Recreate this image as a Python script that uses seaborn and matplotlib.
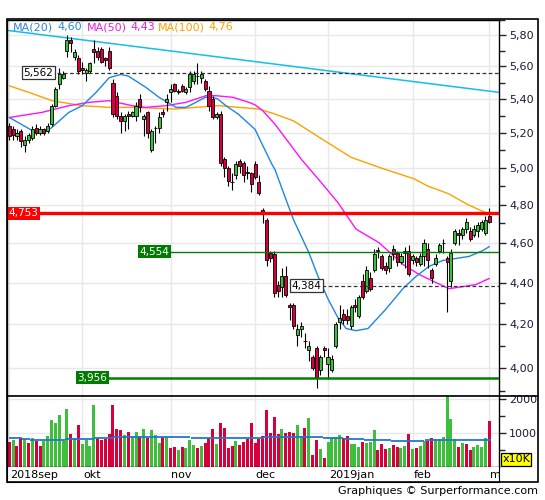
import numpy as np
import matplotlib
matplotlib.use("Agg")
import matplotlib.pyplot as plt
from matplotlib.ticker import FixedLocator, FuncFormatter, NullFormatter
from matplotlib.patches import Rectangle
from matplotlib.lines import Line2D
import seaborn as sns

# daily candles, 4 sep 2018 -> 1 mar 2019 (index = trading day)
opens = [5.24, 5.22, 5.18, 5.21, 5.13, 5.16, 5.17, 5.23, 5.20, 5.22,
         5.21, 5.25, 5.36, 5.49, 5.53, 5.70, 5.77, 5.66, 5.65,
         5.59, 5.56, 5.57, 5.71, 5.70, 5.71, 5.65, 5.70, 5.50, 5.42,
         5.30, 5.27, 5.31, 5.30, 5.30, 5.40, 5.28, 5.32, 5.10, 5.23,
         5.23, 5.32, 5.38,
         5.44, 5.49, 5.44, 5.48, 5.44, 5.47, 5.51, 5.54, 5.53, 5.51,
         5.45, 5.40, 5.29, 5.31, 5.05, 5.00, 4.925, 4.96, 5.04, 5.03,
         4.98, 4.97,
         5.02, 4.92, 4.77, 4.72, 4.55, 4.54, 4.39, 4.38, 4.43, 4.29,
         4.29, 4.15, 4.18, 4.12, 4.08, 4.05, 4.09, 3.99, 4.09,
         4.02, 3.99, 4.10, 4.21, 4.25, 4.24, 4.19, 4.29, 4.24, 4.41,
         4.36, 4.42, 4.46, 4.56, 4.53, 4.48, 4.47, 4.57, 4.55, 4.50,
         4.55, 4.56,
         4.51, 4.52, 4.49, 4.53, 4.57, 4.46, 4.49, 4.56, 4.60, 4.52,
         4.41, 4.60, 4.65, 4.64, 4.67, 4.66, 4.64, 4.66, 4.67, 4.65,
         4.74]
closes = [5.18, 5.19, 5.20, 5.15, 5.16, 5.19, 5.22, 5.20, 5.22, 5.20,
          5.24, 5.36, 5.46, 5.55, 5.55, 5.77, 5.75, 5.69, 5.57,
          5.58, 5.58, 5.62, 5.69, 5.66, 5.63, 5.64, 5.59, 5.31, 5.30,
          5.27, 5.30, 5.30, 5.32, 5.36, 5.35, 5.30, 5.20, 5.21, 5.23,
          5.29, 5.31, 5.40,
          5.46, 5.45, 5.45, 5.45, 5.46, 5.55, 5.55, 5.54, 5.55, 5.46,
          5.36, 5.29, 5.31, 5.03, 5.00, 4.93, 4.92, 5.02, 5.01, 4.96,
          4.97, 4.91,
          4.95, 4.86, 4.76, 4.51, 4.52, 4.35, 4.36, 4.43, 4.34, 4.28,
          4.19, 4.18, 4.19, 4.12, 4.10, 4.00, 3.96, 4.05, 4.08,
          4.05, 4.04, 4.20, 4.23, 4.22, 4.22, 4.28, 4.28, 4.33, 4.33,
          4.46, 4.37, 4.54, 4.565, 4.47, 4.46, 4.53, 4.54, 4.50, 4.53,
          4.56, 4.44,
          4.53, 4.50, 4.53, 4.60, 4.51, 4.42, 4.52, 4.59, 4.60, 4.50,
          4.55, 4.66, 4.64, 4.67, 4.71, 4.62, 4.67, 4.69, 4.71, 4.72,
          4.71]
highs = [5.26, 5.24, 5.22, 5.22, 5.18, 5.20, 5.24, 5.25, 5.24, 5.23,
         5.26, 5.37, 5.47, 5.59, 5.57, 5.80, 5.79, 5.71, 5.67,
         5.63, 5.59, 5.63, 5.77, 5.72, 5.72, 5.66, 5.72, 5.52, 5.44,
         5.32, 5.31, 5.33, 5.33, 5.38, 5.43, 5.31, 5.33, 5.22, 5.24,
         5.32, 5.34, 5.43,
         5.49, 5.50, 5.46, 5.49, 5.47, 5.57, 5.57, 5.62, 5.57, 5.52,
         5.48, 5.42, 5.32, 5.33, 5.06, 5.01, 4.97, 5.04, 5.05, 5.04,
         5.01, 4.98,
         5.04, 4.96, 4.78, 4.73, 4.56, 4.56, 4.41, 4.47, 4.48, 4.30,
         4.30, 4.20, 4.21, 4.16, 4.12, 4.06, 4.10, 4.06, 4.10,
         4.09, 4.06, 4.21, 4.29, 4.27, 4.27, 4.29, 4.32, 4.34, 4.44,
         4.48, 4.45, 4.57, 4.58, 4.54, 4.50, 4.54, 4.59, 4.56, 4.55,
         4.58, 4.59,
         4.54, 4.53, 4.55, 4.62, 4.60, 4.47, 4.54, 4.60, 4.62, 4.53,
         4.57, 4.67, 4.67, 4.68, 4.73, 4.68, 4.69, 4.71, 4.72, 4.74,
         4.78]
lows = [5.16, 5.16, 5.16, 5.12, 5.09, 5.14, 5.16, 5.19, 5.19, 5.19,
        5.20, 5.24, 5.35, 5.46, 5.52, 5.66, 5.69, 5.64, 5.55,
        5.55, 5.51, 5.56, 5.62, 5.64, 5.62, 5.60, 5.58, 5.29, 5.28,
        5.20, 5.21, 5.22, 5.29, 5.27, 5.32, 5.18, 5.17, 5.09, 5.14,
        5.20, 5.29, 5.33,
        5.38, 5.44, 5.43, 5.44, 5.43, 5.44, 5.49, 5.49, 5.50, 5.45,
        5.33, 5.28, 5.28, 5.01, 4.95, 4.90, 4.88, 4.94, 4.97, 4.92,
        4.94, 4.87,
        4.94, 4.85, 4.70, 4.48, 4.50, 4.33, 4.33, 4.33, 4.33, 4.22,
        4.18, 4.10, 4.14, 4.09, 4.03, 3.99, 3.91, 3.97, 4.05,
        3.95, 3.98, 4.09, 4.18, 4.20, 4.20, 4.18, 4.26, 4.23, 4.32,
        4.35, 4.36, 4.45, 4.52, 4.46, 4.44, 4.45, 4.51, 4.48, 4.49,
        4.47, 4.43,
        4.49, 4.48, 4.48, 4.48, 4.47, 4.40, 4.48, 4.55, 4.55, 4.26,
        4.38, 4.59, 4.59, 4.62, 4.65, 4.61, 4.63, 4.63, 4.66, 4.64,
        4.70]

# volume in units of 10K
volumes = [725, 783, 609, 840, 821, 696, 840, 754, 609, 754,
           899, 1391, 1304, 1536, 754, 1710, 957, 840, 1217, 667,
           783, 609, 1826, 840, 783, 812, 957, 1826, 1101, 1072,
           928, 1014, 899, 1014, 899, 1101, 840, 1072, 928, 696,
           870, 870, 551, 580, 493, 580, 551, 783, 638, 551,
           609, 696, 840, 1101, 667, 1275, 1130, 551, 609, 754,
           638, 725, 812, 1275, 696, 812, 899, 1681, 986, 1478,
           957, 1101, 986, 1014, 986, 1217, 899, 1130, 1449, 348,
           783, 522, 261, 725, 840, 870, 928, 840, 899, 667,
           667, 580, 725, 696, 725, 1072, 493, 667, 522, 551,
           638, 580, 551, 609, 957, 522, 551, 609, 754, 754,
           840, 812, 812, 870, 2077, 1420, 812, 580, 696, 667,
           493, 580, 638, 580, 840, 1362]
vol_dir = ("rgrrgrgrrg" "ggggggrgrg" "gggrrrrrrr" "grggrgrggg" "rgrrgrgggr"
           "grrrgrrrrg" "rrrrrrrrrr" "rgrrrggrgr" "rgrggggrrg" "ggrgggrrrg"
           "rrggrgrggr" "rggggggrgr" "rggggr")

# average volume (stepped)
vavg_start = [0, 3.3, 5.5, 14.6, 22.1, 27.3, 47.2, 66.4, 81.7, 87.1, 92.4, 99.4, 108.2]
vavg_end = [3.2, 5.4, 14.5, 22.0, 27.2, 47.1, 66.3, 81.6, 87.0, 92.3, 99.3, 108.1, 125.4]
vavg_level = [860, 820, 790, 820, 860, 890, 860, 890, 860, 830, 800, 770, 800]

# moving averages
ma20_t = [0, 7, 9, 11, 15.5, 19, 22.6, 26, 29, 31, 35.6, 39, 43.4, 46, 48.6, 51, 53,
          54.3, 56.4, 59.6, 64, 66.6, 68.4, 69.2, 72, 74, 78, 80.4, 83, 85.6, 87.7,
          90.3, 93.4, 98, 102.5, 105.9, 109.3, 112.9, 116.3, 119.7, 123.3, 125]
ma20_v = [5.29, 5.20, 5.20, 5.23, 5.32, 5.36, 5.44, 5.53, 5.55, 5.54, 5.47, 5.41, 5.35,
          5.35, 5.38, 5.41, 5.41, 5.40, 5.36, 5.31, 5.22, 5.10, 5.02, 4.99, 4.83, 4.72,
          4.55, 4.43, 4.32, 4.23, 4.18, 4.17, 4.18, 4.27, 4.37, 4.43, 4.48, 4.51, 4.52,
          4.53, 4.56, 4.58]
ma50_t = [0, 8.5, 15.5, 20.8, 26, 32, 35.6, 40.8, 46, 51.2, 53.8, 58.3, 62.4, 64, 66,
          69.2, 76, 81.2, 85.6, 90.3, 96.3, 102.5, 106.7, 111.1, 114.5, 118.1, 121.5, 125]
ma50_v = [5.29, 5.32, 5.36, 5.38, 5.39, 5.36, 5.35, 5.36, 5.38, 5.42, 5.42, 5.41, 5.38,
          5.365, 5.33, 5.25, 5.05, 4.92, 4.81, 4.67, 4.60, 4.49, 4.44, 4.40, 4.37, 4.38,
          4.39, 4.42]
ma100_t = [0, 5.1, 11.1, 19, 26, 32, 43.4, 48.6, 54.6, 59.8, 65, 69.2, 74, 81, 89, 96.8,
           105.4, 109, 114.2, 119.4, 124.8]
ma100_v = [5.48, 5.44, 5.39, 5.36, 5.35, 5.35, 5.34, 5.35, 5.36, 5.35, 5.34, 5.31, 5.27,
           5.17, 5.06, 5.00, 4.94, 4.90, 4.86, 4.80, 4.75]

trend_t = [-0.6, 127.6]
trend_v = [5.83, 5.44]

month_pos = [0, 19, 42, 64, 83, 105, 125]
month_lab = ["2018sep", "okt", "nov", "dec", "2019jan", "feb", "m"]

price_ticks = [4.0, 4.2, 4.4, 4.6, 4.8, 5.0, 5.2, 5.4, 5.6, 5.8]
price_minor = [3.9, 4.1, 4.3, 4.5, 4.7, 4.9, 5.1, 5.3, 5.5, 5.7, 5.9]

GREEN = "#3dbe3d"
RED = "#d7003c"
TXT = "#1b1b3a"

sns.set_style("white")
plt.rcParams["font.family"] = ["DejaVu Sans"]

W, H = 545, 500
fig = plt.figure(figsize=(W / 100, H / 100), dpi=100)


def fx(x):
    return x / W


def fy(y):
    return 1 - y / H


left, right = 7, 499.3
ax_p = fig.add_axes([fx(left), fy(395.5), (right - left) / W, (395.5 - 19.5) / H])
ax_v = fig.add_axes([fx(left), fy(467.3), (right - left) / W, (467.3 - 395.5) / H])
ax_d = fig.add_axes([fx(left), fy(481.7), (right - left) / W, (481.7 - 467.3) / H])

t = np.arange(len(closes))
o = np.array(opens)
c = np.array(closes)
xlim = (-0.6, 127.6)

# ---- price panel
ax_p.set_yscale("log")
ax_p.set_ylim(3.879, 5.901)
ax_p.set_xlim(*xlim)
for v in price_ticks:
    ax_p.axhline(v, color="#e8e8e8", lw=1, zorder=0)
for m in month_pos:
    ax_p.axvline(m, color="#e8e8e8", lw=1, zorder=0)

ax_p.vlines(t, lows, highs, color="black", lw=0.8, zorder=3)
ax_p.bar(t, np.abs(c - o), bottom=np.minimum(o, c), width=0.8,
         color=np.where(c >= o, GREEN, RED), edgecolor="black", linewidth=0.6, zorder=4)

sns.lineplot(x=trend_t, y=trend_v, ax=ax_p, color="#12bdf0", lw=1.1, zorder=2)
sns.lineplot(x=ma100_t, y=ma100_v, ax=ax_p, color="#ffa000", lw=1.0, zorder=2)
sns.lineplot(x=ma50_t, y=ma50_v, ax=ax_p, color="#ff10ff", lw=1.0, zorder=2)
sns.lineplot(x=ma20_t, y=ma20_v, ax=ax_p, color="#1f86e0", lw=1.0, zorder=2)

# levels
ax_p.axhline(4.753, color="#ff0000", lw=2.4, zorder=5)
ax_p.text(-0.25, 4.753, "4,753", color="white", fontsize=7.5, va="center", ha="left",
          zorder=7, bbox=dict(boxstyle="square,pad=0.15", fc="#ff0000", ec="none"))
ax_p.hlines(4.554, 41.5, xlim[1], color="#008000", lw=1.0, zorder=5)
ax_p.text(33.8, 4.554, "4,554", color="white", fontsize=7.5, va="center", ha="left",
          zorder=7, bbox=dict(boxstyle="square,pad=0.15", fc="#007a00", ec="none"))
ax_p.hlines(3.956, 25.5, xlim[1], color="#008000", lw=1.8, zorder=5)
ax_p.text(17.7, 3.956, "3,956", color="white", fontsize=7.5, va="center", ha="left",
          zorder=7, bbox=dict(boxstyle="square,pad=0.15", fc="#007a00", ec="none"))
ax_p.hlines(5.562, 12.4, xlim[1], color="#333333", lw=0.9, linestyles=(0, (3, 2)), zorder=5)
ax_p.text(3.6, 5.562, "5,562", color="black", fontsize=7.5, va="center", ha="left",
          zorder=7, bbox=dict(boxstyle="square,pad=0.15", fc="white", ec="#333333", lw=0.9))
ax_p.hlines(4.384, 81.4, xlim[1], color="#333333", lw=0.9, linestyles=(0, (3, 2)), zorder=5)
ax_p.text(73.6, 4.384, "4,384", color="black", fontsize=7.5, va="center", ha="left",
          zorder=7, bbox=dict(boxstyle="square,pad=0.15", fc="white", ec="#333333", lw=0.9))

ax_p.yaxis.tick_right()
ax_p.yaxis.set_major_locator(FixedLocator(price_ticks))
ax_p.yaxis.set_minor_locator(FixedLocator(price_minor))
ax_p.yaxis.set_major_formatter(FuncFormatter(lambda v, p: f"{v:.2f}".replace(".", ",")))
ax_p.yaxis.set_minor_formatter(NullFormatter())
ax_p.tick_params(axis="y", which="major", direction="out", length=5, width=1,
                 labelsize=8, labelcolor=TXT, pad=2)
ax_p.tick_params(axis="y", which="minor", direction="out", length=4, width=1)
ax_p.set_xticks([])
for s in ax_p.spines.values():
    s.set_color("black")
    s.set_linewidth(1)
ax_p.set_xlabel("")
ax_p.set_ylabel("")

# ---- volume panel
ax_v.set_xlim(*xlim)
ax_v.set_ylim(0, 2090)
for v in [1000, 2000]:
    ax_v.axhline(v, color="#e8e8e8", lw=1, zorder=0)
for m in month_pos:
    ax_v.axvline(m, color="#e8e8e8", lw=1, zorder=0)
ax_v.bar(t, volumes, width=0.78, color=[GREEN if d == "g" else RED for d in vol_dir],
         linewidth=0, zorder=2)
ax_v.hlines(vavg_level, vavg_start, vavg_end, color="#1f78d0", lw=1.3, zorder=3)
ax_v.yaxis.tick_right()
ax_v.set_yticks([1000, 2000])
ax_v.set_yticks([500, 1500], minor=True)
ax_v.tick_params(axis="y", which="major", direction="out", length=5, width=1,
                 labelsize=8, labelcolor=TXT, pad=2)
ax_v.tick_params(axis="y", which="minor", direction="out", length=4, width=1)
ax_v.set_xticks([])
ax_v.spines["top"].set_visible(False)
for s in ["left", "right", "bottom"]:
    ax_v.spines[s].set_color("black")
    ax_v.spines[s].set_linewidth(1)
ax_v.text(1.006, 0.04, "x10K", transform=ax_v.transAxes, fontsize=8, color="black",
          ha="left", va="bottom", clip_on=False,
          bbox=dict(boxstyle="square,pad=0.12", fc="#ffff00", ec="black", lw=0.9))

# ---- date strip
ax_d.set_xlim(*xlim)
ax_d.set_ylim(0, 1)
ax_d.set_xticks([])
ax_d.set_yticks([])
ax_d.spines["top"].set_visible(False)
for s in ["left", "right", "bottom"]:
    ax_d.spines[s].set_color("black")
for m, lab in zip(month_pos, month_lab):
    ax_d.text(m + 0.2, 0.45, lab, fontsize=8, color="black", ha="left", va="center",
              clip_on=True)

# ---- outer frame and separator
fig.add_artist(Rectangle((fx(7), fy(481.7)), (538 - 7) / W, (481.7 - 19.5) / H,
                         transform=fig.transFigure, fill=False, ec="black", lw=1.2))
fig.add_artist(Line2D([fx(7), fx(538)], [fy(395.5), fy(395.5)],
                      transform=fig.transFigure, color="black", lw=1.2))

# ---- MA legend
leg = [(13, "MA(20)", "#2f86d6"), (57, "4,60", "#2f86d6"),
       (87, "MA(50)", "#e020e0"), (130, "4,43", "#e020e0"),
       (158, "MA(100)", "#ffa000"), (208, "4,76", "#ffa000")]
for x, s, col in leg:
    fig.text(fx(x), fy(27), s, color=col, fontsize=8, ha="left", va="center")

fig.text(fx(538), fy(491), "Graphiques \u00a9 Surperformance.com", fontsize=8,
         color="black", ha="right", va="center")

fig.savefig("out.png", dpi=100)
